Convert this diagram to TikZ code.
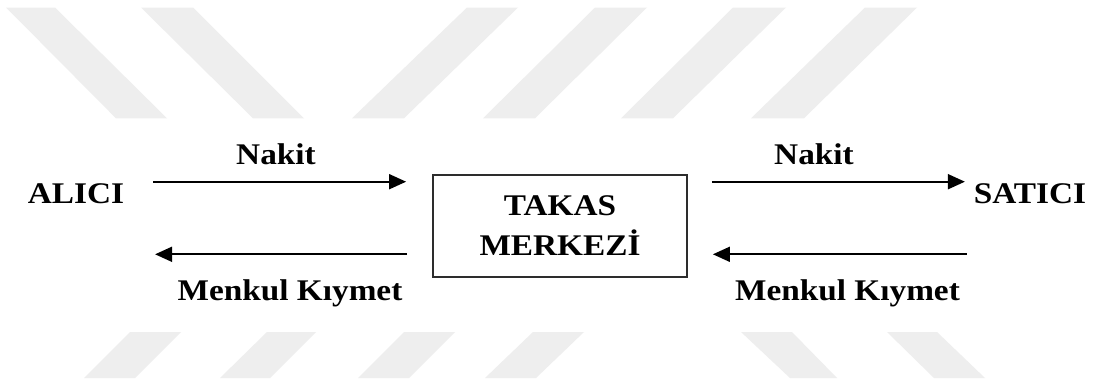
\documentclass[tikz,border=0pt]{standalone}
\usepackage{fontspec}
\setmainfont{Liberation Serif}[FakeStretch=1.11]
\usetikzlibrary{arrows.meta,calc}
\definecolor{wmgray}{RGB}{238,238,238}
\definecolor{boxline}{RGB}{45,45,45}
\tikzset{
  wm/.style={fill=wmgray},
  label/.style={font=\fontsize{30}{36}\selectfont\bfseries, anchor=base, inner sep=0pt},
  party/.style={label},
  center/.style={draw=boxline, line width=1.8pt, minimum width=254pt, minimum height=102pt,
    align=center, inner sep=0pt, font=\fontsize{30}{40}\selectfont\bfseries},
  arr/.style={line width=1.8pt, -{Triangle[length=17pt,width=15pt]}}
}
\begin{document}
\begin{tikzpicture}[x=1pt,y=-1pt]
\useasboundingbox[fill=white] (0,0) rectangle (1095,383);

% background stripes, upper band
\fill[wm] (6,7.5) -- (55,7.5) -- (167,118.3) -- (116,118.3) -- cycle;
\fill[wm] (141,7.5) -- (193,7.5) -- (304,118.3) -- (253,118.3) -- cycle;
\fill[wm] (467,7.5) -- (518,7.5) -- (404,118.3) -- (352,118.3) -- cycle;
\fill[wm] (595,7.5) -- (647,7.5) -- (535,118.3) -- (483,118.3) -- cycle;
\fill[wm] (733,7.5) -- (786,7.5) -- (673,118.3) -- (621,118.3) -- cycle;
\fill[wm] (865,7.5) -- (917,7.5) -- (804,118.3) -- (751,118.3) -- cycle;
% background stripes, lower band
\fill[wm] (130,332) -- (181,332) -- (135,378) -- (84,378) -- cycle;
\fill[wm] (267,332) -- (316,332) -- (270,378) -- (220,378) -- cycle;
\fill[wm] (404,332) -- (455,332) -- (409,378) -- (358,378) -- cycle;
\fill[wm] (533,332) -- (584,332) -- (536,378) -- (485,378) -- cycle;
\fill[wm] (741,332) -- (792,332) -- (837,378) -- (790,378) -- cycle;
\fill[wm] (887,332) -- (937,332) -- (985,378) -- (934,378) -- cycle;

% parties and clearing house
\node[party] (alici) at (76,203) {ALICI};
\node[party] (satici) at (1030,203) {SATICI};
\node[center] (takas) at (560,226) {TAKAS\\MERKEZİ};

% flows
\draw[arr] ($(takas.west)+(-279,-44.3)$) coordinate (cashL) -- ($(takas.west)+(-26,-44.3)$);
\draw[arr] ($(takas.west)+(-25,28.3)$) -- ($(takas.west)+(-277,28.3)$) coordinate (secL);
\draw[arr] ($(takas.east)+(24,-44.3)$) coordinate (cashR) -- ($(takas.east)+(277,-44.3)$);
\draw[arr] ($(takas.east)+(279,28.3)$) -- ($(takas.east)+(25,28.3)$) coordinate (secR);

% flow labels
\node[label] (nakitL) at (276,164) {Nakit};
\node[label] (nakitR) at (814,164) {Nakit};
\node[label] (menkulL) at (290,300) {Menkul Kıymet};
\node[label] (menkulR) at (847.5,300) {Menkul Kıymet};
\end{tikzpicture}
\end{document}
